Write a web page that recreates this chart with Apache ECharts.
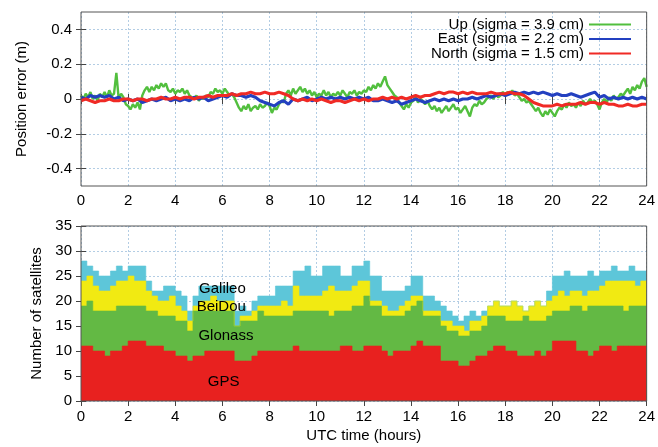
<!DOCTYPE html>
<html><head><meta charset="utf-8">
<script src="https://cdn.jsdelivr.net/npm/echarts@6/dist/echarts.min.js"></script>
<style>html,body{margin:0;padding:0;background:#fff}#c{width:658px;height:447px}</style>
</head><body><div id="c"></div>
<script>
// ---- Data ----
const posTicks = [-0.4, -0.2, 0, 0.2, 0.4];
const seriesNames = ['Up (sigma = 3.9 cm)', 'East (sigma = 2.2 cm)', 'North (sigma = 1.5 cm)'];

// Up error (m), sampled every 0.1 h
const upStep = 0.1;
const up = [
 0.02,0.00,0.03,0.01,0.04,0.00,0.02,-0.01,0.03,0.01,
 0.04,0.01,0.05,0.02,0.03,0.15,0.00,0.03,0.01,-0.03,
 -0.04,-0.06,-0.03,-0.05,-0.02,-0.06,0.02,0.05,0.07,0.04,
 0.07,0.05,0.08,0.06,0.09,0.07,0.09,0.05,0.04,0.06,
 0.03,0.05,0.04,0.06,0.03,0.05,0.02,0.01,0.00,0.02,
 -0.01,0.01,0.00,0.02,0.01,0.04,0.03,0.06,0.04,0.05,
 0.03,0.06,0.04,0.02,0.03,0.01,-0.02,-0.05,-0.07,-0.04,
 -0.06,-0.03,-0.07,-0.05,-0.04,-0.06,-0.03,-0.05,-0.04,-0.02,
 -0.04,-0.08,-0.05,-0.06,-0.03,-0.01,-0.02,0.03,0.05,0.02,
 0.06,0.03,0.05,0.07,0.04,0.06,0.03,0.05,0.02,0.04,
 0.01,0.03,0.02,0.05,0.02,0.04,0.01,0.03,0.02,0.04,
 0.02,0.05,0.03,0.01,0.04,0.03,0.05,0.02,0.04,0.03,
 0.05,0.04,0.07,0.05,0.08,0.06,0.09,0.07,0.10,0.13,
 0.08,0.06,0.04,0.02,0.01,-0.02,-0.04,-0.06,-0.03,-0.05,
 -0.02,-0.01,0.01,-0.02,0.00,-0.01,-0.03,-0.01,-0.04,-0.06,
 -0.04,-0.07,-0.05,-0.08,-0.06,-0.04,-0.07,-0.05,-0.03,-0.06,
 -0.05,-0.08,-0.06,-0.04,-0.07,-0.10,-0.05,-0.03,-0.04,-0.01,
 -0.03,-0.02,0.00,0.01,0.02,0.00,0.03,0.01,0.02,0.04,
 0.02,0.04,0.03,0.05,0.02,0.03,0.01,-0.01,0.00,-0.02,
 -0.01,-0.03,-0.05,-0.07,-0.05,-0.08,-0.10,-0.07,-0.09,-0.06,
 -0.08,-0.10,-0.07,-0.05,-0.06,-0.03,-0.05,-0.02,-0.04,-0.03,
 -0.05,-0.02,-0.04,-0.01,-0.03,-0.02,0.00,-0.02,-0.01,-0.03,
 -0.06,-0.02,0.00,-0.02,0.01,-0.01,0.02,0.00,0.01,0.03,
 0.02,0.04,0.06,0.03,0.07,0.05,0.08,0.06,0.10,0.12,
 0.07
];

// East and North errors (m), sampled every 0.2 h
const enStep = 0.2;
const east = [
 0.01,0.00,0.02,0.01,0.02,  0.01,0.02,0.00,0.01,-0.01,
 0.00,-0.01,0.00,-0.02,-0.01,  0.00,-0.01,0.00,0.01,-0.01,
 0.00,-0.01,0.00,-0.01,0.01,  0.00,0.01,-0.01,0.00,0.01,
 0.02,0.01,0.03,0.02,0.02,  0.01,0.02,0.01,-0.01,-0.02,
 -0.03,-0.04,-0.02,-0.01,-0.03,  0.00,-0.01,0.00,0.01,-0.01,
 0.00,0.01,0.00,0.01,0.00,  0.01,0.00,0.01,0.00,0.01,
 0.00,0.01,-0.01,-0.01,0.00,  -0.01,-0.02,-0.01,-0.03,-0.02,
 -0.01,0.00,-0.01,-0.02,-0.01,  0.00,-0.01,0.00,-0.01,0.00,
 -0.01,0.00,0.00,0.01,0.00,  0.01,0.02,0.01,0.02,0.03,
 0.02,0.03,0.04,0.03,0.04,  0.03,0.04,0.03,0.04,0.03,
 0.02,0.03,0.02,0.02,0.03,  0.02,0.01,0.02,0.03,0.04,
 0.01,0.02,0.00,0.01,0.00,  0.01,0.00,0.01,0.00,0.01,
 0.00
];
const north = [
 -0.01,0.00,-0.01,-0.02,-0.01,  -0.01,0.00,-0.01,-0.01,0.00,
 0.00,-0.01,0.00,0.00,-0.01,  0.00,0.00,0.01,0.00,0.00,
 0.01,0.00,0.01,0.01,0.00,  0.01,0.01,0.02,0.01,0.02,
 0.02,0.02,0.03,0.02,0.03,  0.03,0.04,0.03,0.03,0.04,
 0.03,0.03,0.04,0.03,0.02,  0.00,-0.01,0.00,-0.01,0.00,
 -0.01,0.00,-0.01,-0.02,-0.01,  -0.01,-0.02,-0.01,0.00,-0.01,
 0.00,-0.01,0.00,0.00,0.01,  0.00,0.01,0.00,0.01,0.00,
 0.01,0.02,0.01,0.02,0.02,  0.03,0.04,0.03,0.04,0.04,
 0.03,0.04,0.03,0.04,0.03,  0.03,0.03,0.04,0.03,0.03,
 0.03,0.04,0.03,0.03,0.02,  0.00,-0.02,-0.03,-0.04,-0.04,
 -0.04,-0.03,-0.04,-0.03,-0.03,  -0.03,-0.02,-0.03,-0.02,-0.02,
 -0.03,-0.02,-0.03,-0.03,-0.04,  -0.04,-0.03,-0.04,-0.04,-0.03,
 -0.03
];

// Number of satellites per system, every 0.25 h
const satStep = 0.25;
const satNames = ['GPS', 'Glonass', 'BeiDou', 'Galileo'];
const gps = [
 11,11,10,10,9,10,10,11,12,12, 12,11,11,11,10,10,9,9,8,9,
 9,10,10,10,10,10,8,8,8,9, 10,10,10,10,10,10,11,10,10,10,
 10,10,10,10,11,11,10,10,11,11, 11,10,9,10,10,10,11,12,11,11,
 11,8,8,8,7,7,8,9,9,10, 11,11,10,10,9,9,9,10,9,10,
 12,12,12,12,10,10,9,10,11,11, 10,11,11,11,11,11,11
];
const glonass = [
 8,9,8,8,9,8,9,8,7,7, 7,7,7,6,7,7,7,7,6,9,
 9,8,8,8,8,8,7,8,8,7, 8,7,7,7,7,7,7,8,8,8,
 8,8,7,8,7,7,9,9,10,8, 8,7,8,7,7,8,8,8,6,6,
 6,7,6,6,6,6,6,5,6,7, 6,6,6,6,7,8,7,6,7,7,
 6,6,6,7,9,8,10,9,8,8, 9,8,7,8,8,8,8
];
const beidou = [
 5,5,5,4,4,5,5,5,6,5, 5,4,3,3,3,4,3,2,2,1,
 2,2,3,2,2,2,0,1,1,2, 1,2,2,2,3,2,5,3,3,3,
 3,4,6,4,4,4,4,5,3,1, 1,2,1,1,2,2,2,1,1,1,
 1,1,2,1,2,1,2,2,2,2, 3,2,3,4,3,1,3,4,3,3,
 3,4,3,3,3,3,3,3,4,5, 5,5,6,5,4,5,5
];
const galileo = [
 4,2,3,3,3,3,3,2,2,3, 3,2,1,2,3,2,3,3,2,2,
 3,3,2,3,3,3,3,2,1,2, 2,2,2,4,3,4,3,5,6,4,
 4,5,4,5,3,3,4,3,4,5, 5,3,4,4,3,3,4,4,3,3,
 2,3,2,2,1,3,2,1,1,0, 0,0,0,0,0,0,0,0,0,2,
 4,3,5,3,3,4,4,3,3,2, 3,2,2,3,3,2,2
];
// in-plot labels (data coordinates: hour, satellites)
const areaLabels = [
 {text: 'Galileo', t: 6.0, v: 22.4},
 {text: 'BeiDou', t: 5.95, v: 18.8},
 {text: 'Glonass', t: 6.15, v: 13.0},
 {text: 'GPS', t: 6.05, v: 3.8}
];

// ---- Styles ----
const font = '"Liberation Sans", Arial, Helvetica, sans-serif';
const lineColors = ['#52bf3e', '#2340c0', '#f02a25'];
const areaColors = ['#e8211f', '#63b944', '#f1ea12', '#5dc6d9'];
const gridLine = {color: '#b3cde4', type: [2, 2], width: 1};
const tickStyle = {color: '#444', width: 1};
const txt = {fontSize: 15, color: '#000', fontFamily: font};

function xPair(gridIndex, labelMargin, name) {
  return [{
    type: 'value', gridIndex, min: 0, max: 24, interval: 2, position: 'bottom',
    axisLine: {show: false},
    axisTick: {inside: true, length: 5, lineStyle: tickStyle},
    axisLabel: Object.assign({margin: labelMargin}, txt),
    splitLine: {show: true, lineStyle: gridLine},
    name: name || '', nameLocation: 'middle', nameGap: 27, nameTextStyle: txt
  }, {
    type: 'value', gridIndex, min: 0, max: 24, interval: 2, position: 'top',
    axisLine: {show: false},
    axisTick: {inside: true, length: 5, lineStyle: tickStyle},
    axisLabel: {show: false}, splitLine: {show: false}
  }];
}

const chart = echarts.init(document.getElementById('c'), null, {renderer: 'canvas'});
const option = {
  animation: false,
  backgroundColor: '#fff',
  textStyle: {fontFamily: font},
  grid: [
    {left: 81, top: 12, width: 568, height: 174, show: true, borderColor: '#555', borderWidth: 1, backgroundColor: 'transparent', z: 10},
    {left: 81, top: 226, width: 568, height: 175, show: true, borderColor: '#555', borderWidth: 1, backgroundColor: 'transparent', z: 10}
  ],
  xAxis: [].concat(xPair(0, 7), xPair(1, 8, 'UTC time (hours)')),
  yAxis: [
    {type: 'value', gridIndex: 0, min: -0.5, max: 0.5, position: 'left',
     axisLine: {show: false},
     axisTick: {inside: true, length: 5, lineStyle: tickStyle, customValues: posTicks},
     axisLabel: Object.assign({margin: 9, customValues: posTicks}, txt),
     splitLine: {show: true, lineStyle: gridLine},
     name: 'Position error (m)', nameLocation: 'middle', nameGap: 52, nameTextStyle: txt},
    {type: 'value', gridIndex: 0, min: -0.5, max: 0.5, position: 'right',
     axisLine: {show: false},
     axisTick: {inside: true, length: 5, lineStyle: tickStyle, customValues: posTicks},
     axisLabel: {show: false}, splitLine: {show: false}},
    {type: 'value', gridIndex: 1, min: 0, max: 35, interval: 5, position: 'left',
     axisLine: {show: false},
     axisTick: {inside: true, length: 5, lineStyle: tickStyle},
     axisLabel: Object.assign({margin: 9}, txt),
     splitLine: {show: true, lineStyle: gridLine},
     name: 'Number of satellites', nameLocation: 'middle', nameGap: 35, nameTextStyle: txt},
    {type: 'value', gridIndex: 1, min: 0, max: 35, interval: 5, position: 'right',
     axisLine: {show: false},
     axisTick: {inside: true, length: 5, lineStyle: tickStyle},
     axisLabel: {show: false}, splitLine: {show: false}}
  ],
  legend: {
    data: seriesNames, orient: 'vertical', align: 'right', right: 27, top: 17,
    padding: 0, itemGap: -0.5, itemWidth: 42, itemHeight: 2, icon: 'rect',
    textStyle: {fontSize: 15, color: '#000', fontFamily: font}
  },
  series: []
};

const errSets = [[up, upStep], [east, enStep], [north, enStep]];
errSets.forEach(([arr, step], k) => {
  option.series.push({
    type: 'line', name: seriesNames[k], xAxisIndex: 0, yAxisIndex: 0,
    data: arr.map((v, i) => [+(i * step).toFixed(2), v]),
    symbol: 'none', showSymbol: false,
    lineStyle: {color: lineColors[k], width: k === 0 ? 2.4 : 3},
    itemStyle: {color: lineColors[k]}, z: 2 + k
  });
});

// cumulative totals (stack built here, drawn back-to-front as opaque areas)
const systems = [gps, glonass, beidou, galileo];
const cumulative = systems.map((_, k) =>
  gps.map((_, i) => systems.slice(0, k + 1).reduce((s, arr) => s + arr[i], 0)));
for (let k = systems.length - 1; k >= 0; k--) {
  option.series.push({
    type: 'line', name: satNames[k], xAxisIndex: 2, yAxisIndex: 2,
    step: 'end',
    data: cumulative[k].map((v, i) => [i * satStep, v]),
    symbol: 'none', showSymbol: false,
    lineStyle: {width: 0.6, color: areaColors[k]},
    areaStyle: {color: areaColors[k], opacity: 1, origin: 'start'},
    itemStyle: {color: areaColors[k]}, z: 2
  });
}

chart.setOption(option);
chart.setOption({
  graphic: areaLabels.map(a => {
    const p = chart.convertToPixel({gridIndex: 1}, [a.t, a.v]);
    return {type: 'text', x: p[0], y: p[1], z: 100,
      style: {text: a.text, fontSize: 15, fontFamily: font, fill: '#000', align: 'center', verticalAlign: 'middle'}};
  })
});
</script>
</body></html>
